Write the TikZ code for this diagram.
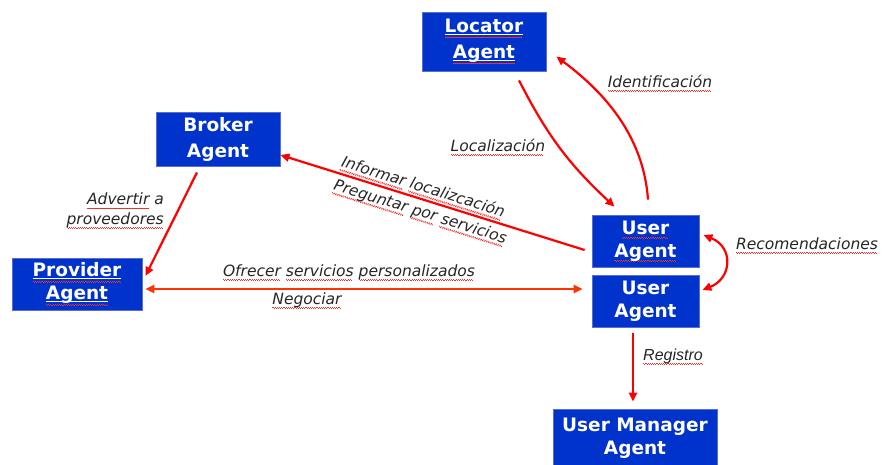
\documentclass[tikz,border=0pt]{standalone}
\usepackage{fontspec}
\usetikzlibrary{arrows.meta,calc}
\newfontfamily\boxfont{DejaVu Sans}
\newfontfamily\labfont{DejaVu Sans}
\newfontfamily\arialfont{Liberation Sans}
\definecolor{boxblue}{HTML}{0033CC}
\definecolor{boxedge}{HTML}{5A6ED0}
\definecolor{arrred}{HTML}{FF0000}
\definecolor{arrorange}{HTML}{FF3300}
\definecolor{spellred}{HTML}{F03030}
\newsavebox\spbox
\newcommand\wavebox{\hbox{{\color{spellred}\vrule height -2.6pt depth 3.5pt width 1.1pt\vrule height -3.5pt depth 4.4pt width 1.1pt}}}
\newcommand\spellul[1]{\sbox\spbox{#1}\rlap{\hbox to \wd\spbox{\leaders\wavebox\hfill}}\usebox\spbox}
\newcommand\linkul[1]{\sbox\spbox{#1}\rlap{\color{white}\vrule height -1.6pt depth 2.8pt width \wd\spbox}\rlap{\hbox to \wd\spbox{\leaders\hbox{\lower1.8pt\wavebox}\hfill}}\usebox\spbox}
\tikzset{
  agentbox/.style={fill=boxblue, draw=boxedge, line width=0.8pt, text=white,
    font=\boxfont\bfseries\fontsize{18.5}{23}\selectfont, align=center, inner sep=0pt},
  lab/.style={font=\labfont\itshape\fontsize{15.5}{19.5}\selectfont, text=black!85, inner sep=0pt},
  arr/.style={draw=arrred, line width=2.2pt, >={Triangle[length=9pt,width=8pt]}, ->},
}
\begin{document}
\begin{tikzpicture}[x=1pt,y=-1pt]
\useasboundingbox (0,0) rectangle (883,464);
\fill[white] (0,0) rectangle (883,464);
\node[agentbox, minimum width=124pt, minimum height=59pt, font=\boxfont\bfseries\fontsize{18.5}{26}\selectfont] (loc) at (484,41.5) {\linkul{Locator}\\\linkul{Agent}};
\node[agentbox, minimum width=124pt, minimum height=54pt, font=\boxfont\bfseries\fontsize{18.5}{26}\selectfont] (bro) at (218,139) {Broker\\Agent};
\node[agentbox, minimum width=130pt, minimum height=52pt] (pro) at (77,284) {\linkul{Provider}\\\linkul{Agent}};
\node[agentbox, minimum width=107pt, minimum height=52pt] (ua1) at (645.5,241) {\spellul{User}\\\spellul{Agent}};
\node[agentbox, minimum width=107pt, minimum height=52pt] (ua2) at (645.5,301) {User\\Agent};
\node[agentbox, minimum width=164pt, minimum height=58pt] (uma) at (635,438) {User Manager\\Agent};

\node[lab] (lLoc) at (498,147) {\spellul{Localización}};
\node[lab] (lId) at (660,83) {\spellul{Identificación}};
\node[lab, rotate=-17.4] (lInf) at (423,188) {\spellul{Informar} \spellul{localizcación}};
\node[lab, rotate=-17.4] (lPre) at (420,213) {\spellul{Preguntar} \spellul{por} \spellul{servicios}};
\node[lab, align=right, anchor=east] (lAdv) at (164,211) {\spellul{Advertir} a\\\spellul{proveedores}};
\node[lab] (lOf) at (349,273) {\spellul{Ofrecer} \spellul{servicios} \spellul{personalizados}};
\node[lab] (lNeg) at (307,301) {\spellul{Negociar}};
\node[lab] (lRec) at (807,246) {\spellul{Recomendaciones}};
\node[lab, font=\arialfont\itshape\fontsize{16}{19}\selectfont] (lReg) at (673,357) {\spellul{Registro}};

\draw[arr] ([xshift=35pt,yshift=-9pt]loc.south) to[bend right=10] ([xshift=-31pt,yshift=8pt]ua1.north);
\draw[arr] ([xshift=2.5pt,yshift=15pt]ua1.north) .. controls +(-5,-70) and +(40,30) .. ([xshift=10pt,yshift=-15pt]loc.east);
\draw[arr] ([xshift=-7pt,yshift=-9pt]ua1.west) -- ([yshift=-16pt]bro.east);
\draw[arr] ([xshift=-21pt,yshift=-6pt]bro.south) -- ([xshift=3pt,yshift=8pt]pro.east);
\draw[arr, draw=arrorange, <->] ([xshift=3pt,yshift=-5pt]pro.east) -- ([xshift=-9pt,yshift=12pt]ua2.west);
\draw[arr, <->] ([xshift=4pt,yshift=6pt]ua1.east) .. controls +(30,12) and +(30,-12) .. ([xshift=3pt,yshift=11pt]ua2.east);
\draw[arr] ([xshift=-12.5pt,yshift=-6pt]ua2.south) -- ([xshift=-2pt,yshift=7pt]uma.north);
\end{tikzpicture}
\end{document}
